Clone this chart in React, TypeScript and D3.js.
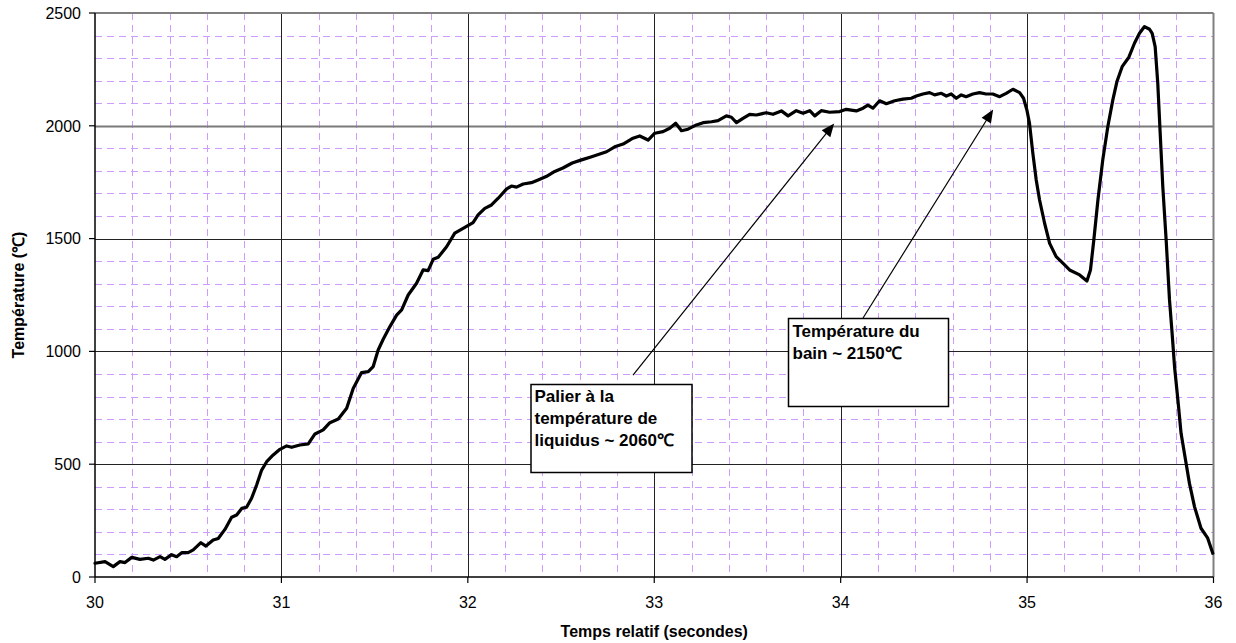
import React from "react";
import * as d3 from "d3";

// Temperature trace: relative time (s) and temperature (°C)
const timeS: number[] = [
  30.0, 30.054, 30.098, 30.134, 30.161, 30.197, 30.241, 30.286, 30.313, 30.349,
  30.375, 30.411, 30.438, 30.465, 30.5, 30.527, 30.568, 30.595, 30.634, 30.661,
  30.697, 30.733, 30.76, 30.787, 30.813, 30.84, 30.867, 30.894, 30.921, 30.956,
  30.992, 31.028, 31.055, 31.099, 31.144, 31.18, 31.224, 31.26, 31.305, 31.35,
  31.385, 31.43, 31.466, 31.492, 31.519, 31.546, 31.582, 31.618, 31.645, 31.68,
  31.725, 31.76, 31.787, 31.814, 31.841, 31.886, 31.93, 31.984, 32.028, 32.055,
  32.091, 32.127, 32.163, 32.207, 32.234, 32.261, 32.297, 32.341, 32.377, 32.42,
  32.46, 32.51, 32.56, 32.61, 32.66, 32.708, 32.744, 32.788, 32.833, 32.886,
  32.922, 32.967, 33.003, 33.047, 33.083, 33.115, 33.146, 33.181, 33.226, 33.262,
  33.307, 33.342, 33.387, 33.414, 33.441, 33.476, 33.512, 33.548, 33.601, 33.637,
  33.682, 33.718, 33.762, 33.798, 33.834, 33.861, 33.896, 33.941, 33.995, 34.03,
  34.084, 34.12, 34.146, 34.173, 34.209, 34.245, 34.29, 34.334, 34.379, 34.406,
  34.441, 34.477, 34.504, 34.54, 34.567, 34.593, 34.62, 34.647, 34.673, 34.709,
  34.745, 34.78, 34.816, 34.853, 34.888, 34.924, 34.96, 34.981, 34.999, 35.013,
  35.031, 35.049, 35.067, 35.094, 35.121, 35.156, 35.192, 35.228, 35.282, 35.321,
  35.34, 35.358, 35.38, 35.406, 35.433, 35.46, 35.482, 35.51, 35.546, 35.576,
  35.603, 35.63, 35.657, 35.671, 35.687, 35.701, 35.714, 35.728, 35.746, 35.764,
  35.778, 35.791, 35.809, 35.826, 35.85, 35.871, 35.898, 35.933, 35.969, 35.996,
];

const tempC: number[] = [
  61, 68, 46, 68, 64, 87, 78, 83, 75, 90,
  78, 99, 90, 108, 108, 120, 152, 137, 164, 171,
  211, 265, 275, 304, 309, 349, 408, 474, 511, 541,
  566, 581, 575, 585, 590, 634, 652, 684, 700, 748,
  836, 906, 910, 932, 1006, 1054, 1110, 1161, 1184, 1250,
  1302, 1361, 1358, 1408, 1417, 1464, 1524, 1550, 1571, 1605,
  1634, 1649, 1679, 1719, 1733, 1728, 1742, 1748, 1760, 1775,
  1795, 1813, 1835, 1849, 1862, 1875, 1885, 1907, 1919, 1945,
  1955, 1937, 1967, 1974, 1989, 2011, 1978, 1985, 2004, 2014,
  2018, 2023, 2044, 2038, 2014, 2033, 2051, 2048, 2058, 2051,
  2066, 2044, 2067, 2056, 2067, 2044, 2067, 2060, 2063, 2073,
  2066, 2078, 2092, 2078, 2111, 2098, 2111, 2118, 2122, 2132,
  2141, 2147, 2137, 2144, 2132, 2141, 2122, 2137, 2129, 2141,
  2147, 2141, 2141, 2129, 2144, 2162, 2147, 2122, 2070, 2011,
  1878, 1760, 1671, 1568, 1479, 1420, 1391, 1361, 1339, 1312,
  1361, 1494, 1671, 1849, 1996, 2115, 2196, 2262, 2304, 2366,
  2410, 2440, 2428, 2410, 2351, 2189, 1967, 1730, 1494, 1228,
  1080, 932, 785, 637, 519, 415, 312, 216, 172, 105,
];

const xTicks: number[] = [30, 31, 32, 33, 34, 35, 36];
const yTicks: number[] = [0, 500, 1000, 1500, 2000, 2500];

const xTitle = "Temps relatif (secondes)";
const yTitle = "Température (\u2103)";

const noteLiquidus: string[] = ["Palier à la", "température de", "liquidus ~ 2060\u2103"];
const noteBath: string[] = ["Température du", "bain ~ 2150\u2103"];

const W = 1236;
const H = 643;
const M = { left: 95, right: 22.5, top: 13, bottom: 66 };
const FONT = "Arial, 'Liberation Sans', Helvetica, sans-serif";
const GRID_MINOR = "#cc9dff";

export default function App() {
  const x = d3.scaleLinear().domain([30, 36]).range([M.left, W - M.right]);
  const y = d3.scaleLinear().domain([0, 2500]).range([H - M.bottom, M.top]);

  const minorX = d3.range(30.2, 36, 0.2).filter((v) => Math.abs(v - Math.round(v)) > 1e-6);
  const minorY = d3.range(100, 2500, 100).filter((v) => v % 500 !== 0);

  const pts: [number, number][] = timeS.map((t, i) => [t, tempC[i]]);
  const line = d3
    .line<[number, number]>()
    .x((d) => x(d[0]))
    .y((d) => y(d[1]));

  const x0 = x(30);
  const x1 = x(36);
  const y0 = y(0);
  const y1 = y(2500);

  // arrow ends expressed in data space (tail at the note, head on the trace)
  const arrows = [
    { from: [32.886, 895], to: [33.965, 2010] },
    { from: [34.12, 1148], to: [34.818, 2072] },
  ];

  const arrowHead = (fx: number, fy: number, tx: number, ty: number) => {
    const ang = Math.atan2(ty - fy, tx - fx);
    const len = 13;
    const half = 5.5;
    const bx = tx - len * Math.cos(ang);
    const by = ty - len * Math.sin(ang);
    const px = -Math.sin(ang) * half;
    const py = Math.cos(ang) * half;
    return `M${tx},${ty}L${bx + px},${by + py}L${bx - px},${by - py}Z`;
  };

  return (
    <svg
      width={W}
      height={H}
      style={{ position: "absolute", left: 0, top: 0, background: "#fff" }}
      fontFamily={FONT}
    >
      {/* minor grid */}
      <g stroke={GRID_MINOR} strokeWidth={1} strokeDasharray="7,5">
        {minorY.map((v) => (
          <line key={"my" + v} x1={x0} x2={x1} y1={Math.round(y(v)) + 0.5} y2={Math.round(y(v)) + 0.5} />
        ))}
        {minorX.map((v) => (
          <line key={"mx" + v} x1={Math.round(x(v)) + 0.5} x2={Math.round(x(v)) + 0.5} y1={y1} y2={y0} />
        ))}
      </g>

      {/* major grid */}
      <g stroke="#222" strokeWidth={1}>
        {yTicks
          .filter((v) => v > 0 && v < 2500)
          .map((v) => (
            <line
              key={"gy" + v}
              x1={x0}
              x2={x1}
              y1={Math.round(y(v)) + 0.5}
              y2={Math.round(y(v)) + 0.5}
              stroke={v === 2000 ? "#7a7a7a" : "#222"}
              strokeWidth={v === 2000 ? 2 : 1}
            />
          ))}
        {xTicks
          .filter((v) => v > 30 && v < 36)
          .map((v) => (
            <line key={"gx" + v} x1={Math.round(x(v)) + 0.5} x2={Math.round(x(v)) + 0.5} y1={y1} y2={y0} />
          ))}
      </g>

      {/* plot frame: top and right */}
      <line x1={x0} x2={x1} y1={y1} y2={y1} stroke="#808080" strokeWidth={2} />
      <line x1={x1} x2={x1} y1={y1} y2={y0} stroke="#808080" strokeWidth={2} />

      {/* axes */}
      <line x1={x0} x2={x0} y1={y1} y2={y0} stroke="#000" strokeWidth={1.5} />
      <line x1={x0} x2={x1} y1={y0} y2={y0} stroke="#000" strokeWidth={1.5} />
      {yTicks.map((v) => (
        <g key={"ty" + v}>
          <line x1={x0 - 6} x2={x0} y1={y(v)} y2={y(v)} stroke="#000" strokeWidth={1.2} />
          <text x={x0 - 14} y={y(v)} dy="0.36em" textAnchor="end" fontSize={16} fill="#000">
            {v}
          </text>
        </g>
      ))}
      {xTicks.map((v) => (
        <g key={"tx" + v}>
          <line x1={x(v)} x2={x(v)} y1={y0} y2={y0 + 6} stroke="#000" strokeWidth={1.2} />
          <text x={x(v)} y={y0 + 31} textAnchor="middle" fontSize={16} fill="#000">
            {v}
          </text>
        </g>
      ))}

      {/* axis titles */}
      <text
        x={(x0 + x1) / 2}
        y={637}
        textAnchor="middle"
        fontSize={16}
        fontWeight="bold"
        fill="#000"
      >
        {xTitle}
      </text>
      <text
        transform={`translate(24,${(y0 + y1) / 2}) rotate(-90)`}
        textAnchor="middle"
        fontSize={16}
        fontWeight="bold"
        fill="#000"
      >
        {yTitle}
      </text>

      {/* temperature trace */}
      <path
        d={line(pts) ?? ""}
        fill="none"
        stroke="#000"
        strokeWidth={3.2}
        strokeLinejoin="round"
        strokeLinecap="round"
      />

      {/* annotation arrows */}
      {arrows.map((a, i) => {
        const fx = x(a.from[0]);
        const fy = y(a.from[1]);
        const tx = x(a.to[0]);
        const ty = y(a.to[1]);
        const ang = Math.atan2(ty - fy, tx - fx);
        return (
          <g key={"ar" + i}>
            <line
              x1={fx}
              y1={fy}
              x2={tx - 10 * Math.cos(ang)}
              y2={ty - 10 * Math.sin(ang)}
              stroke="#000"
              strokeWidth={1.2}
            />
            <path d={arrowHead(fx, fy, tx, ty)} fill="#000" />
          </g>
        );
      })}

      {/* annotation boxes */}
      <g>
        <rect x={531} y={384.5} width={161} height={88} fill="#fff" stroke="#000" strokeWidth={1.5} />
        {noteLiquidus.map((s, i) => (
          <text key={"nl" + i} x={534.5} y={402 + i * 22} fontSize={17} fontWeight="bold" fill="#000">
            {s}
          </text>
        ))}
        <rect x={788.5} y={318.5} width={160} height={88} fill="#fff" stroke="#000" strokeWidth={1.5} />
        {noteBath.map((s, i) => (
          <text key={"nb" + i} x={792.5} y={337 + i * 22} fontSize={17} fontWeight="bold" fill="#000">
            {s}
          </text>
        ))}
      </g>
    </svg>
  );
}
